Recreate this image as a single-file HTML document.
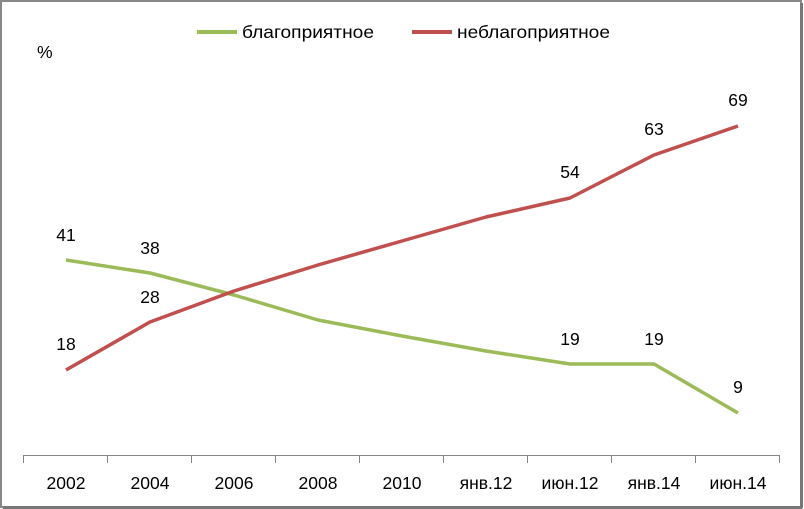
<!DOCTYPE html>
<html><head><meta charset="utf-8"><style>
html,body{margin:0;padding:0;background:#fff}
svg{display:block}
text{font-family:"Liberation Sans","DejaVu Sans",sans-serif;font-size:17.5px;fill:#000}
</style></head><body>
<svg width="804" height="509" viewBox="0 0 804 509" xmlns="http://www.w3.org/2000/svg">
<rect x="1" y="1" width="800" height="506" fill="#fff" stroke="#888" stroke-width="2"/>
<line x1="801.5" y1="3" x2="801.5" y2="508" stroke="#777" stroke-width="3"/>
<line x1="3" y1="507.5" x2="802" y2="507.5" stroke="#777" stroke-width="3"/>
<line x1="197" y1="32" x2="237" y2="32" stroke="#9BBB59" stroke-width="4"/>
<text x="242" y="38" textLength="132" lengthAdjust="spacingAndGlyphs">благоприятное</text>
<line x1="412" y1="32" x2="452" y2="32" stroke="#C0504D" stroke-width="4"/>
<text x="457" y="38" textLength="153" lengthAdjust="spacingAndGlyphs">неблагоприятное</text>
<text x="37" y="58">%</text>
<g stroke="#868686" stroke-width="1">
<line x1="23.5" y1="455.5" x2="779.5" y2="455.5"/>
<line x1="23.5" y1="455" x2="23.5" y2="463"/>
<line x1="107.5" y1="455" x2="107.5" y2="463"/>
<line x1="191.5" y1="455" x2="191.5" y2="463"/>
<line x1="275.5" y1="455" x2="275.5" y2="463"/>
<line x1="359.5" y1="455" x2="359.5" y2="463"/>
<line x1="443.5" y1="455" x2="443.5" y2="463"/>
<line x1="527.5" y1="455" x2="527.5" y2="463"/>
<line x1="611.5" y1="455" x2="611.5" y2="463"/>
<line x1="695.5" y1="455" x2="695.5" y2="463"/>
<line x1="779.5" y1="455" x2="779.5" y2="463"/>
</g>
<g text-anchor="middle">
<text x="66" y="489">2002</text>
<text x="150" y="489">2004</text>
<text x="234" y="489">2006</text>
<text x="318" y="489">2008</text>
<text x="402" y="489">2010</text>
<text x="486" y="489">янв.12</text>
<text x="570" y="489">июн.12</text>
<text x="654" y="489">янв.14</text>
<text x="738" y="489">июн.14</text>
</g>
<polyline fill="none" stroke="#9BBB59" stroke-width="3.5" stroke-linejoin="round" points="66,260 150,273 234,295 318,320 402,336 486,351 570,364 654,364 738,413"/>
<polyline fill="none" stroke="#C0504D" stroke-width="3.5" stroke-linejoin="round" points="66,370 150,322 234,291 318,265 402,241 486,217 570,198 654,155 738,126"/>
<g text-anchor="middle">
<text x="66" y="241">41</text>
<text x="150" y="254">38</text>
<text x="570" y="345">19</text>
<text x="654" y="345">19</text>
<text x="738" y="393">9</text>
<text x="66" y="350">18</text>
<text x="150" y="303">28</text>
<text x="570" y="178">54</text>
<text x="654" y="135">63</text>
<text x="738" y="106">69</text>
</g>
</svg>
</body></html>
